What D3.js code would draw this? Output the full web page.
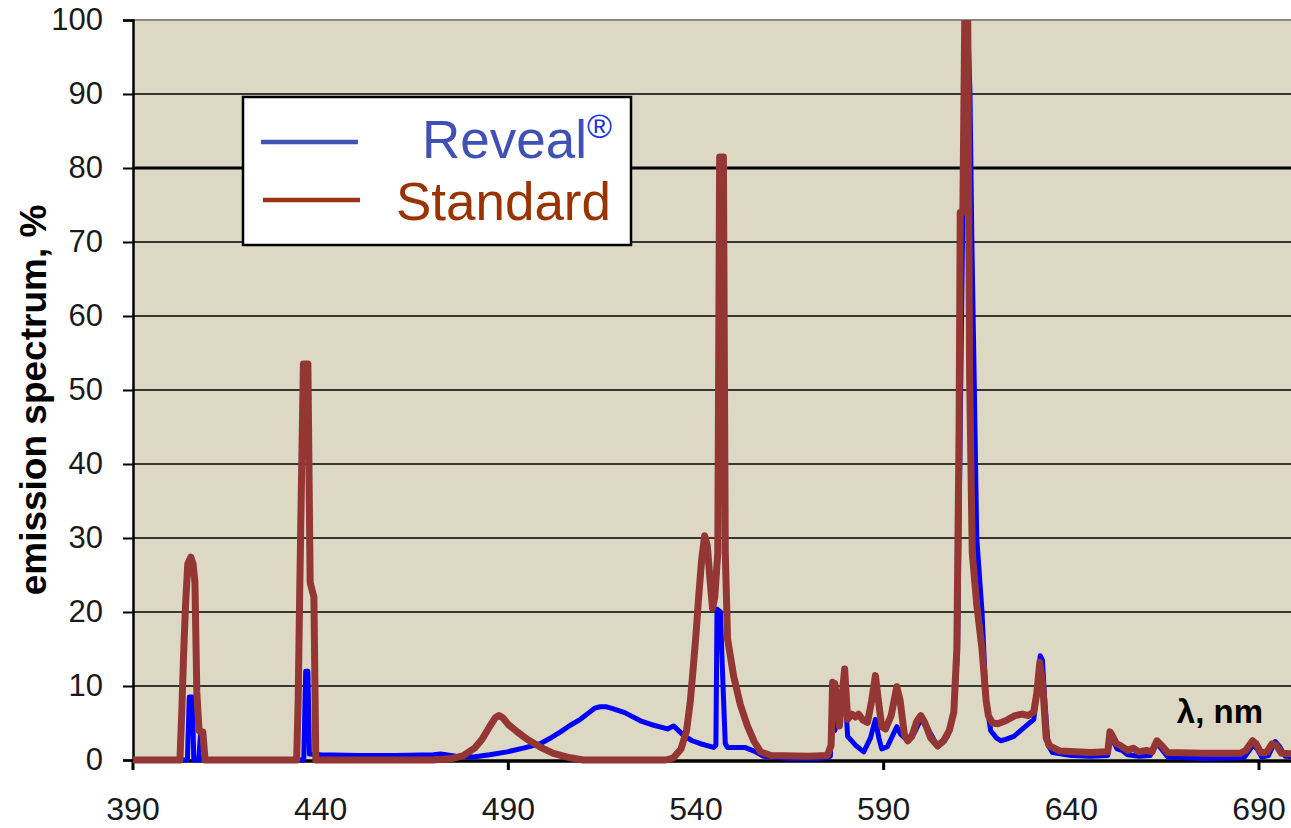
<!DOCTYPE html>
<html><head><meta charset="utf-8">
<script src="https://cdn.jsdelivr.net/npm/d3@7"></script>
<style>html,body{margin:0;padding:0;background:#fff;overflow:hidden}</style>
</head><body>
<svg id="chart" width="1291" height="828"></svg>
<script>
// ---------- data ----------
const standardNm = [390,402.5,403,403.5,404,404.6,405.4,406,406.5,407,407.6,408.6,409.2,
 433.6,434,434.4,434.8,435.4,436.6,437.2,438.2,438.7,
 470,475,478,481,483,485,486.5,487.5,488.5,490,492.4,495,498.5,502,506.5,510,
 532,534,536,537.5,538.5,539.3,540,540.7,541.5,542.3,543,543.8,544.4,545,545.8,546.3,547.3,547.8,548.4,550,551.8,553.7,555.5,557.2,560,570,
 575,576,576.4,577,578.2,579.6,580.4,581.5,582.5,583.3,584.5,585.7,586.8,587.8,588.6,589.5,590.5,592,593.5,594.4,595.5,596.4,597.5,598.8,599.9,601,602.5,604.4,606,607.5,608.7,
 609.5,610.1,610.4,611.1,611.6,612.4,612.9,613.6,614.8,616.2,617.3,617.9,619,620.4,622.5,625,627,628.5,630,630.8,631.6,632.4,633.3,634.2,637,
 645,649.7,650.3,651,652,653.2,655,656.5,658,660,661.5,662.8,664,665.7,675,685,686.5,688.3,689.2,690.5,692,693.5,694.6,696,701];
const standardVal = [0,0,6.5,14.5,21,26.5,27.4,26.5,24,9.2,3.9,3.8,0,
 0,8,22,35,53.5,53.5,24,22,0,
 0,0.2,0.6,1.6,2.8,4.5,5.7,6.0,5.7,4.8,3.8,2.8,1.75,0.9,0.3,0,
 0,0.3,1.5,4,8,12.7,17,22,27,30.3,29,24,20.5,22,28,81.5,81.5,28,16.4,11.4,7.5,4.6,2.5,1.1,0.6,0.5,
 0.6,2,10.5,10.3,4.6,12.3,5.5,6.2,5.8,6.2,5.4,5.1,8,11.4,8,4.5,4.2,6,9.9,8,3.5,2.6,3.2,5.2,6.0,5,3,1.9,2.6,4,6.5,
 15,45,74,74,100,100,52,28,21,15,8,6,5,4.9,5.3,6,6.2,6,6.5,9,13.2,10,3,1.9,1.2,
 1.0,1.1,3.8,3.2,2.2,1.9,1.3,1.6,1.1,1.3,1.1,2.6,2,1.0,0.9,0.9,1.3,2.6,2.2,1.0,1.0,2.2,2.0,0.9,0.8];

const revealNm = [390,404.5,405,405.8,406.2,407.5,408,408.5,
 435.5,436,436.6,437,440,450,460,470,472,476,480.7,485,489.7,494,498.5,501,503.9,506.5,509.2,511.5,513,514.5,516,518,521,525.2,528,532.4,534,535.5,536.7,539,541.2,544.7,
 545.3,545.6,546.5,547.2,547.8,548.4,553,555.5,558,565,572,575,575.8,576.3,577,579.5,580.4,582.5,584.7,586.5,587.8,588.7,589.5,591,593.5,594.5,596.4,598,599.9,601.5,604.4,607,608.7,
 609.7,610.4,611,611.6,612.5,613,613.5,614.1,614.8,616.2,617.3,618.5,620,621.2,622.5,624.7,627,630,631,631.7,632.3,632.9,633.8,635,
 640,645,649.7,650.4,651.2,652.2,653.5,655,658,661,662.8,664,665.7,675,686,688.4,689.5,690.7,692.5,694.3,695.5,697,701];
const revealVal = [0,0,8.5,8.5,0,0,3.5,0,
 0,12,12,0.8,0.7,0.6,0.6,0.7,0.8,0.5,0.4,0.7,1.1,1.6,2.2,2.9,3.8,4.7,5.5,6.4,7.0,7.2,7.2,6.9,6.4,5.3,4.8,4.2,4.6,3.9,3.3,2.6,2.2,1.7,
 2.0,20.4,20,10,2.2,1.7,1.7,1.2,0.5,0.2,0.2,0.3,0.5,9,4,11,3.2,2,1.1,3,5.5,3,1.5,1.8,4.5,3.5,2.6,3.5,5.5,4.5,1.8,3.2,6.3,
 15,45,70,90,98,90,70,52,30,20,8,4,3,2.6,2.8,3.2,4.2,5.5,10,14.1,13.5,8.2,2,1,
 0.6,0.5,0.6,3.4,2.5,1.5,1.3,0.7,0.5,0.6,2.3,1.5,0.4,0.2,0.3,2.0,1.5,0.4,0.6,2.5,1.8,0.5,0.4];

const yTicks = [0,10,20,30,40,50,60,70,80,90,100];
const xLabels = [390,440,490,540,590,640,690];
const xTicks = [390,490,590,690];
const seriesNames = ["Reveal", "Standard"];

// ---------- layout ----------
const svg = d3.select("#chart");
const plotLeft = 133, plotTop = 20, plotBottom = 760, plotRight = 1300;
const x = d3.scaleLinear().domain([390, 690]).range([plotLeft, 1259]);
const y = d3.scaleLinear().domain([0, 100]).range([plotBottom, plotTop]);

svg.append("defs").append("clipPath").attr("id","clip")
  .append("rect").attr("x", plotLeft).attr("y", plotTop)
  .attr("width", plotRight - plotLeft).attr("height", plotBottom - plotTop + 6);

// plot background
svg.append("rect").attr("x", plotLeft).attr("y", plotTop)
  .attr("width", plotRight - plotLeft).attr("height", plotBottom - plotTop)
  .attr("fill", "#DDD8C3");

// gridlines
svg.append("g").selectAll("line").data(yTicks.filter(d => d > 0 && d < 100)).join("line")
  .attr("x1", plotLeft).attr("x2", plotRight)
  .attr("y1", d => y(d)).attr("y2", d => y(d))
  .attr("stroke", "#000").attr("stroke-width", d => d === 80 ? 3 : 1.3);

// top border
svg.append("line").attr("x1", plotLeft).attr("x2", plotRight)
  .attr("y1", plotTop).attr("y2", plotTop).attr("stroke", "#8a8a8a").attr("stroke-width", 2);

// y axis
const yAxis = d3.axisLeft(y).tickValues(yTicks).tickSize(10).tickPadding(20);
const gy = svg.append("g").attr("transform", `translate(${plotLeft},0)`).call(yAxis);
gy.select(".domain").attr("stroke", "#000").attr("stroke-width", 2.5);
gy.selectAll(".tick line").attr("stroke", "#000").attr("stroke-width", 2);
gy.selectAll(".tick text").attr("font-family", "Liberation Sans, Arial, sans-serif")
  .attr("font-size", 31).attr("fill", "#1a1a1a");

// x axis line
svg.append("line").attr("x1", plotLeft).attr("x2", plotRight)
  .attr("y1", plotBottom + 1).attr("y2", plotBottom + 1)
  .attr("stroke", "#000").attr("stroke-width", 3.5);
// x ticks
svg.append("g").selectAll("line").data(xTicks).join("line")
  .attr("x1", d => x(d)).attr("x2", d => x(d))
  .attr("y1", plotBottom).attr("y2", plotBottom + 10)
  .attr("stroke", "#000").attr("stroke-width", 3);
// x labels
svg.append("g").selectAll("text").data(xLabels).join("text")
  .attr("x", d => x(d)).attr("y", 820).attr("text-anchor", "middle")
  .attr("font-family", "Liberation Sans, Arial, sans-serif").attr("font-size", 32)
  .attr("fill", "#1a1a1a").text(d => d);

// series
const lineGen = (nm, val) => d3.line().x((d,i) => x(nm[i])).y((d,i) => y(val[i]))(val);
const plot = svg.append("g").attr("clip-path", "url(#clip)");
plot.append("path").attr("d", lineGen(revealNm, revealVal))
  .attr("fill", "none").attr("stroke", "#0000FF").attr("stroke-width", 5)
  .attr("stroke-linejoin", "round");
plot.append("path").attr("d", lineGen(standardNm, standardVal))
  .attr("fill", "none").attr("stroke", "#943634").attr("stroke-width", 7)
  .attr("stroke-linejoin", "round");

// axis titles
svg.append("text").attr("transform", `translate(46,400) rotate(-90)`)
  .attr("text-anchor", "middle").attr("font-family", "Liberation Sans, Arial, sans-serif")
  .attr("font-weight", "bold").attr("font-size", 37).attr("fill", "#000")
  .text("emission spectrum, %");
svg.append("text").attr("x", 1263).attr("y", 723).attr("text-anchor", "end")
  .attr("font-family", "Liberation Sans, Arial, sans-serif")
  .attr("font-weight", "bold").attr("font-size", 33).attr("fill", "#000")
  .text("λ, nm");

// legend
const lg = svg.append("g");
lg.append("rect").attr("x", 243).attr("y", 97).attr("width", 388).attr("height", 148)
  .attr("fill", "#fff").attr("stroke", "#000").attr("stroke-width", 2.5);
const legendColors = ["#4054B2", "#9A3412"];
const textColors = ["#3F51B5", "#993300"];
const legendY = [142, 200];
lg.selectAll("line").data(seriesNames).join("line")
  .attr("x1", (d,i) => i === 0 ? 261 : 263).attr("x2", (d,i) => i === 0 ? 358 : 360)
  .attr("y1", (d,i) => legendY[i]).attr("y2", (d,i) => legendY[i])
  .attr("stroke", (d,i) => legendColors[i]).attr("stroke-width", 4.5);
const t1 = lg.append("text").attr("x", 612).attr("y", 158).attr("text-anchor", "end")
  .attr("font-family", "Liberation Sans, Arial, sans-serif").attr("font-size", 53);
t1.append("tspan").attr("fill", textColors[0]).text(seriesNames[0]);
t1.append("tspan").attr("fill", "#1a2fe0").attr("font-size", 34).attr("dy", -20).text("®");
lg.append("text").attr("x", 611).attr("y", 220).attr("text-anchor", "end")
  .attr("font-family", "Liberation Sans, Arial, sans-serif").attr("font-size", 53)
  .attr("fill", textColors[1]).text(seriesNames[1]);
</script>
</body></html>
